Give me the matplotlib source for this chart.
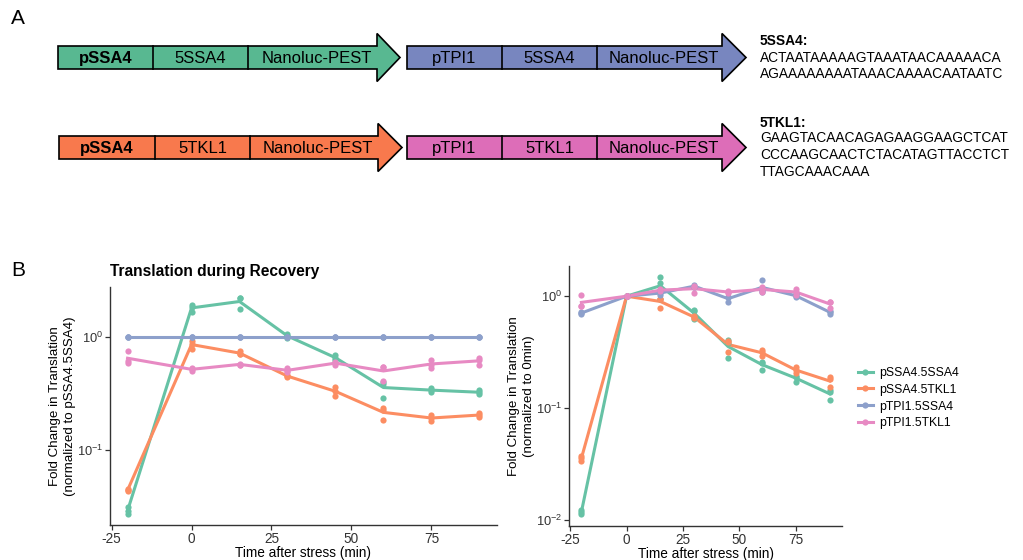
import numpy as np
import matplotlib
matplotlib.use('Agg')
import matplotlib.pyplot as plt
from matplotlib.patches import Polygon
from matplotlib.lines import Line2D

plt.rcParams['font.family'] = ['Liberation Sans', 'DejaVu Sans']
plt.rcParams['mathtext.fontset'] = 'custom'
plt.rcParams['mathtext.rm'] = 'Liberation Sans'
plt.rcParams['mathtext.it'] = 'Liberation Sans:italic'
plt.rcParams['mathtext.bf'] = 'Liberation Sans:bold'
plt.rcParams['axes.unicode_minus'] = False

# ---- data ----
times = [-20, 0, 15, 30, 45, 60, 75, 90]
series = ['pSSA4.5SSA4', 'pSSA4.5TKL1', 'pTPI1.5SSA4', 'pTPI1.5TKL1']
colors = ['#66C2A5', '#FC8D62', '#8DA0CB', '#E78AC3']
arrow_colors = ['#58B891', '#F8794D', '#7886BF', '#DD6DB8']

# replicates per time point, normalized to pSSA4.5SSA4
left_ssa4_5ssa4 = [[0.031, 0.029, 0.027], [1.93, 1.83, 1.66], [2.22, 2.19, 1.77],
                   [1.07, 1.01, 0.98], [0.69, 0.65, 0.625], [0.40, 0.38, 0.29],
                   [0.352, 0.34, 0.323], [0.336, 0.323, 0.313]]
left_ssa4_5tkl1 = [[0.045, 0.044, 0.043], [0.92, 0.86, 0.79], [0.75, 0.71, 0.70],
                   [0.46, 0.45, 0.44], [0.36, 0.33, 0.30], [0.235, 0.227, 0.183],
                   [0.203, 0.192, 0.18], [0.213, 0.203, 0.195]]
left_tpi1_5ssa4 = [[1.0, 1.0, 1.0]] * 8
left_tpi1_5tkl1 = [[0.75, 0.61, 0.585], [0.53, 0.52, 0.50], [0.58, 0.57, 0.565],
                   [0.53, 0.50, 0.49], [0.60, 0.59, 0.57], [0.545, 0.545, 0.41],
                   [0.625, 0.57, 0.535], [0.655, 0.625, 0.565]]

# replicates per time point, normalized to 0 min
right_ssa4_5ssa4 = [[0.0122, 0.0118, 0.0113], [1.0, 1.0, 1.0], [1.47, 1.30, 0.95],
                    [0.76, 0.73, 0.62], [0.405, 0.378, 0.281], [0.26, 0.255, 0.218],
                    [0.195, 0.19, 0.17], [0.145, 0.14, 0.117]]
right_ssa4_5tkl1 = [[0.037, 0.036, 0.0335], [1.0, 1.0, 1.0], [0.95, 0.95, 0.79],
                    [0.66, 0.65, 0.64], [0.40, 0.39, 0.32], [0.33, 0.315, 0.29],
                    [0.234, 0.218, 0.204], [0.188, 0.18, 0.155]]
right_tpi1_5ssa4 = [[0.72, 0.71, 0.69], [1.0, 1.0, 1.0], [1.12, 1.06, 1.02],
                    [1.27, 1.22, 1.20], [0.98, 0.98, 0.89], [1.39, 1.12, 1.09],
                    [1.05, 1.0, 0.98], [0.74, 0.72, 0.70]]
right_tpi1_5tkl1 = [[1.02, 0.81, 0.81], [1.0, 1.0, 1.0], [1.15, 1.13, 1.12],
                    [1.23, 1.20, 1.07], [1.12, 1.09, 1.06], [1.2, 1.15, 1.1],
                    [1.15, 1.1, 1.02], [0.89, 0.88, 0.79]]

left_data = [left_ssa4_5ssa4, left_ssa4_5tkl1, left_tpi1_5ssa4, left_tpi1_5tkl1]
right_data = [right_ssa4_5ssa4, right_ssa4_5tkl1, right_tpi1_5ssa4, right_tpi1_5tkl1]

seq_5ssa4 = ['ACTAATAAAAAGTAAATAACAAAAACA', 'AGAAAAAAAATAAACAAAACAATAATC']
seq_5tkl1 = ['GAAGTACAACAGAGAAGGAAGCTCAT', 'CCCAAGCAACTCTACATAGTTACCTCT', 'TTAGCAAACAAA']

fig = plt.figure(figsize=(10.23, 5.6), dpi=100)

# ---- panel A: constructs drawn in pixel coordinates ----
ov = fig.add_axes([0, 0, 1, 1])
ov.set_xlim(0, 1023)
ov.set_ylim(560, 0)
ov.axis('off')


def construct(x0, divs, head, tip, yc, color, labels, bold_first):
    h, hh = 23, 48
    yt, yb = yc - h / 2, yc + h / 2
    pts = [(x0, yt), (head, yt), (head, yc - hh / 2), (tip, yc),
           (head, yc + hh / 2), (head, yb), (x0, yb)]
    ov.add_patch(Polygon(pts, closed=True, fc=color, ec='black', lw=1.2))
    for d in divs:
        ov.plot([d, d], [yt, yb], color='black', lw=1.2)
    bounds = [x0] + divs + [head + 8]
    for i, lab in enumerate(labels):
        ov.text((bounds[i] + bounds[i + 1]) / 2, yc + 1, lab, ha='center', va='center',
                fontsize=12, fontweight='bold' if (bold_first and i == 0) else 'normal')


construct(58, [153, 248], 377, 400, 57.5, arrow_colors[0], ['pSSA4', '5SSA4', 'Nanoluc-PEST'], True)
construct(407, [502, 597], 722, 746, 57.5, arrow_colors[2], ['pTPI1', '5SSA4', 'Nanoluc-PEST'], False)
construct(59, [155, 250], 378, 402, 147.5, arrow_colors[1], ['pSSA4', '5TKL1', 'Nanoluc-PEST'], True)
construct(407, [502, 597], 722, 746, 147.5, arrow_colors[3], ['pTPI1', '5TKL1', 'Nanoluc-PEST'], False)

ov.text(760, 41, '5SSA4:', fontsize=9.9, fontweight='bold', va='center')
for i, s in enumerate(seq_5ssa4):
    ov.text(760, 57.5 + i * 16.5, s, fontsize=9.9, va='center')
ov.text(760, 123, '5TKL1:', fontsize=9.9, fontweight='bold', va='center')
for i, s in enumerate(seq_5tkl1):
    ov.text(760, 138 + i * 17, s, fontsize=9.9, va='center')

ov.text(18, 19, 'A', fontsize=15, ha='center', va='center')
ov.text(18, 270, 'B', fontsize=15, ha='center', va='center')

# ---- panel B ----
ax1 = fig.add_axes([0.1075, 0.0625, 0.3783, 0.425])
ax2 = fig.add_axes([0.5562, 0.0613, 0.2669, 0.4643])


def draw(ax, data):
    allv = []
    for reps, c in zip(data, colors):
        reps = np.array(reps)
        allv.extend(reps.ravel())
        ax.plot(times, reps.mean(axis=1), color=c, lw=2.2, zorder=2)
        for t, r in zip(times, reps):
            ax.scatter([t] * len(r), r, s=20, color=c, lw=0, zorder=3)
    ax.set_yscale('log')
    lo, hi = np.log10(min(allv)), np.log10(max(allv))
    pad = (hi - lo) * 0.05
    ax.set_ylim(10 ** (lo - pad), 10 ** (hi + pad))
    xpad = (max(times) - min(times)) * 0.05
    ax.set_xlim(min(times) - xpad, max(times) + xpad)
    ax.set_xticks([-25, 0, 25, 50, 75])
    ax.set_xticklabels(['-25', '0', '25', '50', '75'])
    ax.minorticks_off()
    for s in ['top', 'right']:
        ax.spines[s].set_visible(False)
    for s in ['left', 'bottom']:
        ax.spines[s].set_color('#333333')
        ax.spines[s].set_linewidth(1.0)
    ax.tick_params(axis='x', labelsize=9.8)
    ax.tick_params(axis='y', labelsize=9.3)
    ax.tick_params(length=3.5, width=0.9, color='#333333',
                   labelcolor='#333333', pad=1.5)
    ax.set_xlabel('Time after stress (min)', fontsize=9.8, labelpad=0)


draw(ax1, left_data)
ax1.set_yticks([0.1, 1])
ax1.set_yticklabels(['$10^{-1}$', '$10^{0}$'])
ax1.set_ylabel('Fold Change in Translation\n(normalized to pSSA4.5SSA4)',
               fontsize=9.6, labelpad=0.5, linespacing=1.3)
ax1.set_title('Translation during Recovery', loc='left', fontsize=11.2,
              fontweight='bold', pad=8)

draw(ax2, right_data)
ax2.set_yticks([0.01, 0.1, 1])
ax2.set_yticklabels(['$10^{-2}$', '$10^{-1}$', '$10^{0}$'])
ax2.set_ylabel('Fold Change in Translation\n(normalized to 0min)',
               fontsize=9.6, labelpad=0.5, linespacing=1.3)

handles = [Line2D([0], [0], color=c, lw=2.2, marker='o', markersize=4.5, markeredgewidth=0)
           for c in colors]
fig.legend(handles, series, loc='center left', bbox_to_anchor=(0.828, 0.289),
           frameon=False, fontsize=8.8, handlelength=1.2, handletextpad=0.5,
           labelspacing=0.4)

fig.savefig('out.png', dpi=100)
